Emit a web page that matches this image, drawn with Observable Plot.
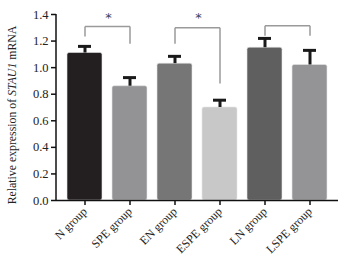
<!DOCTYPE html>
<html>
<head>
<meta charset="utf-8">
<script src="https://cdn.jsdelivr.net/npm/d3@7"></script>
<script src="https://cdn.jsdelivr.net/npm/@observablehq/plot@0.6"></script>
<style>
  html, body { margin: 0; padding: 0; background: #fff; }
  #chart svg { display: block; }
</style>
</head>
<body>
<div id="chart"></div>
<script>
const groups = ["N group", "SPE group", "EN group", "ESPE group", "LN group", "LSPE group"];
const means = [1.11, 0.86, 1.03, 0.70, 1.15, 1.02];
const errors = [0.05, 0.065, 0.055, 0.055, 0.07, 0.11];
const barColors = ["#231f20", "#939396", "#767677", "#c8c8c9", "#5f5f60", "#949497"];
const yTicks = [0, 0.2, 0.4, 0.6, 0.8, 1.0, 1.2, 1.4];

// comparison brackets: from group, to group, top level, left leg end, right leg end, star
const bracketFrom = ["N group", "EN group", "LN group"];
const bracketTo = ["SPE group", "ESPE group", "LSPE group"];
const bracketTop = [1.31, 1.30, 1.315];
const bracketLeftEnd = [1.235, 1.18, 1.24];
const bracketRightEnd = [1.18, 0.88, 1.24];
const bracketStar = ["*", "*", ""];

const bars = groups.map((g, i) => ({group: g, mean: means[i], err: errors[i], color: barColors[i]}));
const brackets = bracketFrom.map((f, i) => ({from: f, to: bracketTo[i], top: bracketTop[i], l: bracketLeftEnd[i], r: bracketRightEnd[i], star: bracketStar[i]}));

const serif = "'Liberation Serif', 'DejaVu Serif', serif";

const plot = Plot.plot({
  width: 347,
  height: 270,
  marginLeft: 56,
  marginRight: 9,
  marginTop: 14,
  marginBottom: 70,
  style: {fontFamily: serif, fontSize: "12px", color: "#222", background: "#fff"},
  x: {domain: groups, padding: 0.23, label: null},
  y: {domain: [0, 1.4], ticks: yTicks, tickFormat: d3.format(".1f"), label: null},
  marks: [
    Plot.barY(bars, {x: "group", y: "mean", fill: "color", rx: 2, stroke: "#e6e6e6", strokeWidth: 0.6}),
    Plot.ruleX(bars, {x: "group", y1: "mean", y2: d => d.mean + d.err, stroke: "#1a1a1a", strokeWidth: 3}),
    Plot.tickY(bars, {x: "group", y: d => d.mean + d.err, stroke: "#1a1a1a", strokeWidth: 3, insetLeft: 11, insetRight: 11}),
    // brackets
    Plot.link(brackets, {x1: "from", x2: "to", y1: "top", y2: "top", stroke: "#9a9a9a", strokeWidth: 1.5}),
    Plot.link(brackets, {x1: "from", x2: "from", y1: "top", y2: "l", stroke: "#9a9a9a", strokeWidth: 1.5}),
    Plot.link(brackets, {x1: "to", x2: "to", y1: "top", y2: "r", stroke: "#9a9a9a", strokeWidth: 1.5}),
    Plot.text(brackets, {x: d => d.from, y: 1.375, text: "star", dx: 23.5, fill: "#3a4466", fontSize: 13, fontFamily: "DejaVu Sans, sans-serif"}),
    Plot.axisY({ticks: yTicks, tickFormat: d3.format(".1f"), tickSize: 5, tickPadding: 3, stroke: "#111", strokeWidth: 1.5, fontSize: 12.5}),
    Plot.axisX({tickSize: 5, tickRotate: -45, tickPadding: 4, stroke: "#111", strokeWidth: 1.5, fontSize: 12}),
    Plot.ruleY([0], {stroke: "#111", strokeWidth: 1.5})
  ]
});

// y axis line
const svg = d3.select(plot);
svg.append("line")
  .attr("x1", 56).attr("x2", 56).attr("y1", 14).attr("y2", 200)
  .attr("stroke", "#111").attr("stroke-width", 1.5);

// y axis title with italic gene name
const t = svg.append("text")
  .attr("transform", "translate(16,115) rotate(-90)")
  .attr("text-anchor", "middle")
  .attr("font-family", serif)
  .attr("font-size", "11.8px")
  .attr("fill", "#222");
t.append("tspan").text("Relative expression of ");
t.append("tspan").attr("font-style", "italic").text("STAU1");
t.append("tspan").text(" mRNA");

document.getElementById("chart").append(plot);
</script>
</body>
</html>
